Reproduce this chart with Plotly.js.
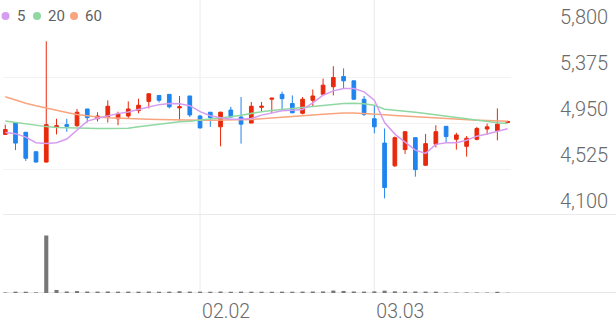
<!DOCTYPE html>
<html><head><meta charset="utf-8">
<script src="https://cdn.plot.ly/plotly-3.0.1.min.js"></script>
<style>html,body{margin:0;padding:0;background:#fff;overflow:hidden}#chart{width:616px;height:321px}</style>
</head><body><div id="chart"></div>
<script>
const dates = ['01.06','01.07','01.08','01.09','01.12','01.13','01.14','01.15','01.16','01.19',
  '01.20','01.21','01.22','01.23','01.26','01.27','01.28','01.29','01.30','02.02',
  '02.03','02.04','02.05','02.06','02.09','02.10','02.11','02.12','02.13','02.19',
  '02.20','02.23','02.24','02.25','02.26','02.27','03.03','03.04','03.05','03.06',
  '03.09','03.10','03.11','03.12','03.13','03.16','03.17','03.18','03.19','03.20'];
const openP  = [4845,4955,4865,4685,4590,4915,4935,4925,5080,4990,5005,4990,5015,5065,5150,5205,5215,5090,5200,5015,
  5050,4915,5070,5005,4950,5095,5170,5215,5130,5040,5160,5215,5285,5380,5340,5170,4990,4765,4555,4705,
  4815,4560,4755,4920,4800,4735,4800,4895,4880,4955];
const highP  = [4935,4955,4865,4690,5705,4990,4990,5080,5080,5050,5160,5055,5150,5175,5225,5205,5215,5200,5200,5025,
  5050,5055,5100,5190,5145,5145,5180,5240,5205,5190,5260,5360,5475,5455,5340,5200,5115,4900,4825,4875,
  4815,4850,4930,4920,4860,4830,4915,4945,5085,4965];
const lowP   = [4840,4700,4600,4585,4585,4845,4870,4915,4955,4965,4955,4930,4990,5040,5085,5140,5085,4975,5005,4900,
  4915,4735,5000,4760,4950,5055,5040,5070,5040,5030,5100,5210,5205,5270,5165,5015,4855,4255,4545,4665,
  4455,4555,4725,4775,4705,4640,4790,4840,4790,4955];
const closeP = [4890,4765,4625,4590,4935,4925,4920,5050,5000,5015,5105,5035,5080,5115,5220,5160,5100,5100,5025,4905,
  5000,5050,5005,4940,5105,5105,5180,5175,5045,5170,5200,5300,5370,5340,5170,5030,4915,4355,4815,4870,
  4520,4760,4870,4825,4840,4810,4900,4915,4940,4965];
const volume = [90000,230000,220000,110000,9870000,520000,260000,330000,250000,240000,
  260000,230000,240000,230000,250000,220000,230000,300000,240000,230000,
  220000,250000,210000,240000,230000,220000,210000,230000,220000,240000,
  250000,270000,420000,350000,260000,240000,280000,400000,290000,250000,
  260000,240000,230000,90000,80000,90000,80000,70000,210000,40000];
const ma5  = [4863,4852,4820,4769,4762,4769,4802,4889,4968,4995,5018,5037,5053,5078,5099,5120,5131,5129,5110,5055,
  5018,5000,4986,4986,4992,5023,5044,5064,5069,5075,5136,5207,5247,5269,5269,5238,5161,4954,4848,4774,
  4700,4670,4753,4769,4769,4792,4829,4848,4875,4898];
const ma20 = [4968,4954,4940,4926,4917,4909,4905,4901,4900,4899,4899,4900,4903,4915,4928,4940,4952,4961,4967,4977,
  4986,4995,5009,5023,5041,5055,5066,5075,5086,5097,5106,5115,5122,5131,5133,5129,5115,5078,5069,5062,
  5050,5038,5025,5012,5000,4986,4972,4961,4952,4946];
const ma60 = [5192,5161,5133,5110,5087,5067,5048,5029,5016,5006,5000,4995,4992,4989,4986,4983,4980,4979,4977,4977,
  4977,4977,4978,4980,4983,4989,4995,5003,5010,5017,5025,5032,5039,5043,5043,5039,5034,5027,5020,5014,
  5008,5003,4997,4991,4986,4981,4977,4973,4970,4967];
const maLabels = ['5','20','60'];
const priceTicks = [4100,4525,4950,5375,5800];
const dateTicks = ['02.02','03.03'];

const RED = '#e8290c', BLUE = '#1f84ef';
const maColors = ['#d69cf0','#8fd8a2','#f8a47e'];

const W = 616, H = 321, L = 3, R = 105, T = 31, B = 28;
const pw = W - L - R, ph = H - T - B;
const px = p => (p - L) / pw;
const py = q => (H - B - q) / ph;

const traces = [
  { type:'candlestick', x:dates, open:openP, high:highP, low:lowP, close:closeP, xaxis:'x', yaxis:'y',
    increasing:{line:{color:RED,width:1}, fillcolor:RED},
    decreasing:{line:{color:BLUE,width:1}, fillcolor:BLUE},
    whiskerwidth:0, hoverinfo:'skip', showlegend:false },
  { type:'scatter', mode:'lines', x:dates, y:ma60, line:{color:maColors[2], width:1.5}, xaxis:'x', yaxis:'y', hoverinfo:'skip' },
  { type:'scatter', mode:'lines', x:dates, y:ma20, line:{color:maColors[1], width:1.5}, xaxis:'x', yaxis:'y', hoverinfo:'skip' },
  { type:'scatter', mode:'lines', x:dates, y:ma5, line:{color:maColors[0], width:1.5}, xaxis:'x', yaxis:'y', hoverinfo:'skip' },
  { type:'bar', x:dates, y:volume, width:0.4, marker:{color:'#777777', line:{width:0}}, xaxis:'x', yaxis:'y2', hoverinfo:'skip' }
];

const shapes = [];
dateTicks.forEach(d => {
  const i = dates.indexOf(d);
  shapes.push({type:'line', xref:'x', yref:'paper', x0:i, x1:i, y0:0, y1:py(0), line:{color:'#ebebeb', width:1}, layer:'below'});
});
shapes.push({type:'line', xref:'paper', yref:'y', x0:px(3), x1:px(616), y0:priceTicks[0], y1:priceTicks[0], line:{color:'#e3e3e3', width:1.5}, layer:'below'});
shapes.push({type:'line', xref:'paper', yref:'y2', x0:px(3), x1:px(616), y0:0, y1:0, line:{color:'#dedede', width:1.5}, layer:'below'});

const legendCircleX = [5.5, 37, 74];
const legendTextX = [15, 46, 82.5];
const annotations = [];
maLabels.forEach((lab, i) => {
  shapes.push({type:'circle', xref:'paper', yref:'paper', xsizemode:'pixel', ysizemode:'pixel',
    xanchor:px(legendCircleX[i]), yanchor:py(16), x0:-4, x1:4, y0:-4, y1:4,
    fillcolor:maColors[i], line:{width:0}});
  annotations.push({xref:'paper', yref:'paper', x:px(legendTextX[i]), y:py(16.5), xanchor:'left', yanchor:'middle',
    text:lab, showarrow:false, font:{size:15, color:'#5f5f5f', family:'Roboto, sans-serif'}});
});

const layout = {
  width:W, height:H, margin:{l:L, r:R, t:T, b:B, pad:0},
  paper_bgcolor:'#ffffff', plot_bgcolor:'#ffffff', showlegend:false,
  font:{family:'Roboto, sans-serif', color:'#666'},
  boxgap:0.4, boxgroupgap:0.4,
  xaxis:{type:'category', categoryorder:'array', categoryarray:dates, range:[-0.22, dates.length - 0.67],
    anchor:'y2', tickmode:'array', tickvals:dateTicks, ticktext:dateTicks,
    showgrid:false, zeroline:false, showline:false, ticks:'',
    tickfont:{size:19.5, color:'#6a6a6a', weight:300}, ticklabelshift:26, ticklabelstandoff:4,
    rangeslider:{visible:false}, fixedrange:true},
  yaxis:{domain:[py(215.1), 1], range:[priceTicks[0], priceTicks[priceTicks.length-1]], side:'right',
    tickmode:'array', tickvals:priceTicks, tickformat:',d', showgrid:true, gridcolor:'#f2f2f2', gridwidth:1,
    zeroline:false, showline:false, ticks:'', tickfont:{size:20, color:'#6a6a6a', weight:300},
    ticklabelstandoff:48, ticklabelshift:-14, fixedrange:true},
  yaxis2:{domain:[0, 0.25], range:[0, Math.max(...volume) * 1.137], showticklabels:false, showgrid:false,
    zeroline:false, showline:false, ticks:'', fixedrange:true},
  shapes:shapes, annotations:annotations
};

Plotly.newPlot('chart', traces, layout, {staticPlot:true, displayModeBar:false});
</script>
</body></html>
